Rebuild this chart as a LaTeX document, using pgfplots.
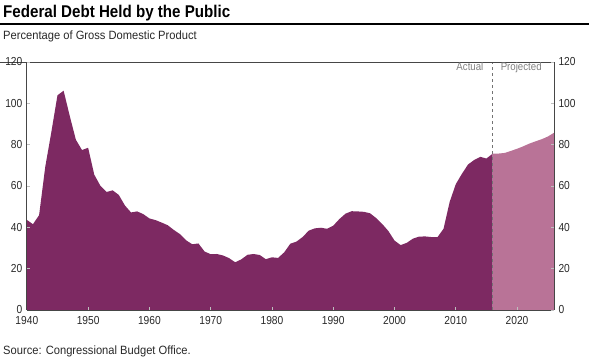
\documentclass[border=0pt]{standalone}
\usepackage{pgfplots}
\pgfplotsset{compat=1.18}
\usepackage{fontspec}
\setmainfont{Liberation Sans}[FakeStretch=0.93]
\newfontfamily\titlefont{Liberation Sans}[FakeStretch=0.89]
\newfontfamily\tickfont{Liberation Sans}[FakeStretch=0.88]
\definecolor{actual}{RGB}{125,41,98}
\definecolor{proj}{RGB}{185,115,151}
\definecolor{axgray}{RGB}{70,70,70}
\definecolor{txt}{RGB}{40,40,40}
\pgfplotstableread{
year value
1940 43.6
1941 41.5
1942 45.9
1943 69.2
1944 86.1
1945 103.9
1946 106.1
1947 93.9
1948 82.4
1949 77.4
1950 78.5
1951 65.5
1952 60.1
1953 57.1
1954 57.9
1955 55.7
1956 50.6
1957 47.2
1958 47.7
1959 46.4
1960 44.3
1961 43.5
1962 42.3
1963 41.0
1964 38.7
1965 36.7
1966 33.7
1967 31.8
1968 32.2
1969 28.3
1970 27.0
1971 27.1
1972 26.4
1973 25.1
1974 23.1
1975 24.5
1976 26.7
1977 27.1
1978 26.6
1979 24.6
1980 25.5
1981 25.2
1982 27.9
1983 32.1
1984 33.1
1985 35.3
1986 38.4
1987 39.5
1988 39.8
1989 39.3
1990 40.8
1991 44.0
1992 46.6
1993 47.8
1994 47.7
1995 47.5
1996 46.8
1997 44.5
1998 41.6
1999 38.2
2000 33.6
2001 31.4
2002 32.5
2003 34.5
2004 35.5
2005 35.6
2006 35.3
2007 35.2
2008 39.3
2009 52.3
2010 60.9
2011 65.9
2012 70.4
2013 72.6
2014 74.1
2015 73.3
2016 75.6
}\actualdata
\pgfplotstableread{
year value
2016 75.6
2017 75.7
2018 76.0
2019 77.0
2020 78.0
2021 79.2
2022 80.5
2023 81.6
2024 82.6
2025 83.9
2026 85.7
}\projdata
\begin{document}
\begin{tikzpicture}[x=1pt,y=1pt]
\useasboundingbox (0,0) rectangle (589,361);
\node[anchor=base west, inner sep=0, text=black] at (3,343.7) {\titlefont\fontsize{17}{20}\selectfont\bfseries Federal Debt Held by the Public};
\draw[line width=1.8pt, black] (0,337) -- (589,337);
\node[anchor=base west, inner sep=0, text=txt] at (3,321.7) {\fontsize{12}{14}\selectfont Percentage of Gross Domestic Product};
\node[anchor=base west, inner sep=0, text=txt] at (3,6) {\fontsize{12}{14}\selectfont Source: Congressional Budget Office.};
\begin{axis}[
  at={(27pt,51pt)}, anchor=south west,
  scale only axis, width=527pt, height=248pt,
  xmin=1940, xmax=2026, ymin=0, ymax=120,
  axis x line*=bottom, axis y line*=left,
  axis line style={-, axgray, line width=0.9pt},
  xtick={1940,1950,...,2020}, ytick={0,20,...,120},
  tick align=inside, major tick length=3pt,
  tick style={black!25, line width=0.7pt},
  axis on top,
  ticklabel style={font=\tickfont\fontsize{11.6}{13}\selectfont, text=txt},
  /pgf/number format/assume math mode=true,
  x tick label style={/pgf/number format/1000 sep={}, yshift=-3pt},
  y tick label style={xshift=-1pt},
  clip=false,
]
\addplot[fill=actual, draw=none] table[x=year,y=value] {\actualdata} \closedcycle;
\addplot[fill=proj, draw=none] table[x=year,y=value] {\projdata} \closedcycle;
\draw[dashed, black!55, line width=0.7pt] (axis cs:2016,0) -- (axis cs:2016,120);
\draw[axgray, line width=0.9pt] (axis cs:1940,120) -- ++(3pt,0);
\draw[axgray, line width=0.9pt] (axis cs:2026,120) -- ++(-3pt,0);
\node[anchor=north east, inner sep=0, text=black!50, font=\tickfont\fontsize{11}{12}\selectfont] at ([xshift=-9pt,yshift=-0.5pt]axis cs:2016,120) {Actual};
\node[anchor=north west, inner sep=0, text=black!50, font=\tickfont\fontsize{11}{12}\selectfont] at ([xshift=8pt,yshift=-0.5pt]axis cs:2016,120) {Projected};
\end{axis}
\begin{axis}[
  at={(27pt,51pt)}, anchor=south west,
  scale only axis, width=527pt, height=248pt,
  xmin=1940, xmax=2026, ymin=0, ymax=120,
  hide x axis,
  axis y line*=right,
  axis line style={-, axgray, line width=0.9pt},
  ytick={0,20,...,120},
  tick align=inside, major tick length=3pt,
  tick style={black!25, line width=0.7pt},
  ticklabel style={font=\tickfont\fontsize{11.6}{13}\selectfont, text=txt},
  /pgf/number format/assume math mode=true,
  y tick label style={xshift=1pt},
]
\addplot[draw=none] coordinates {(1940,0) (2026,0)};
\end{axis}
\end{tikzpicture}
\end{document}
